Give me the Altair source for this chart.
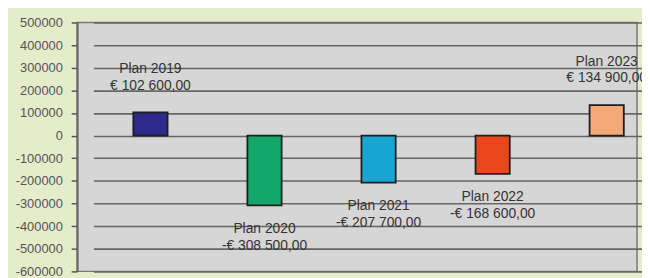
import altair as alt
import pandas as pd

years = ["2019", "2020", "2021", "2022", "2023"]
values = [102600, -308500, -207700, -168600, 134900]
colors = ["#2e2a8c", "#13a86b", "#17a6d0", "#e9471b", "#f7a877"]
y_ticks = [500000, 400000, 300000, 200000, 100000, 0, -100000, -200000,
           -300000, -400000, -500000, -600000]


def euro(v):
    s = f"{abs(v):,.2f}".replace(",", " ").replace(".", ",")
    return ("-€ " if v < 0 else "€ ") + s


df = pd.DataFrame({
    "year": years,
    "value": values,
    "label": [f"Plan {y}\n{euro(v)}" for y, v in zip(years, values)],
})

x = alt.X("year:N", axis=None,
          scale=alt.Scale(range=[16.5, 594], paddingInner=0.7, paddingOuter=0.35))
y = alt.Y("value:Q", title=None,
          scale=alt.Scale(domain=[-600000, 500000], nice=False, zero=False),
          axis=alt.Axis(values=y_ticks, labelExpr="datum.value + ''",
                        labelFont="Liberation Sans", labelFontSize=13,
                        labelColor="#555555", labelPadding=9,
                        tickSize=6, tickColor="#555555", tickWidth=1.5,
                        domainColor="#666666", domainWidth=2,
                        grid=True, gridColor="#666666", gridWidth=1.6))

bars = alt.Chart(df).mark_bar(stroke="#1e1e1e", strokeWidth=1.8).encode(
    x=x,
    y=y,
    y2=alt.datum(0),
    color=alt.Color("year:N", scale=alt.Scale(domain=years, range=colors), legend=None),
)

pos = alt.Chart(df).transform_filter("datum.value >= 0").mark_text(
    lineBreak="\n", baseline="bottom", dy=-37, font="Liberation Sans",
    fontSize=14, color="#333333", lineHeight=17
).encode(x=x, y=y, text="label:N")

neg = alt.Chart(df).transform_filter("datum.value < 0").mark_text(
    lineBreak="\n", baseline="top", dy=17, font="Liberation Sans",
    fontSize=14, color="#333333", lineHeight=17
).encode(x=x, y=y, text="label:N")

chart = alt.layer(bars, pos, neg).properties(
    width=567, height=252,
    autosize=alt.AutoSizeParams(type="none"),
    padding={"left": 70, "top": 13, "right": 5, "bottom": 5},
    background="#e4ecc9",
).configure_view(fill="#d6d6d6", stroke="#777777", strokeWidth=1.5)

chart.save("out.html", embed_options={"renderer": "svg", "actions": False})
